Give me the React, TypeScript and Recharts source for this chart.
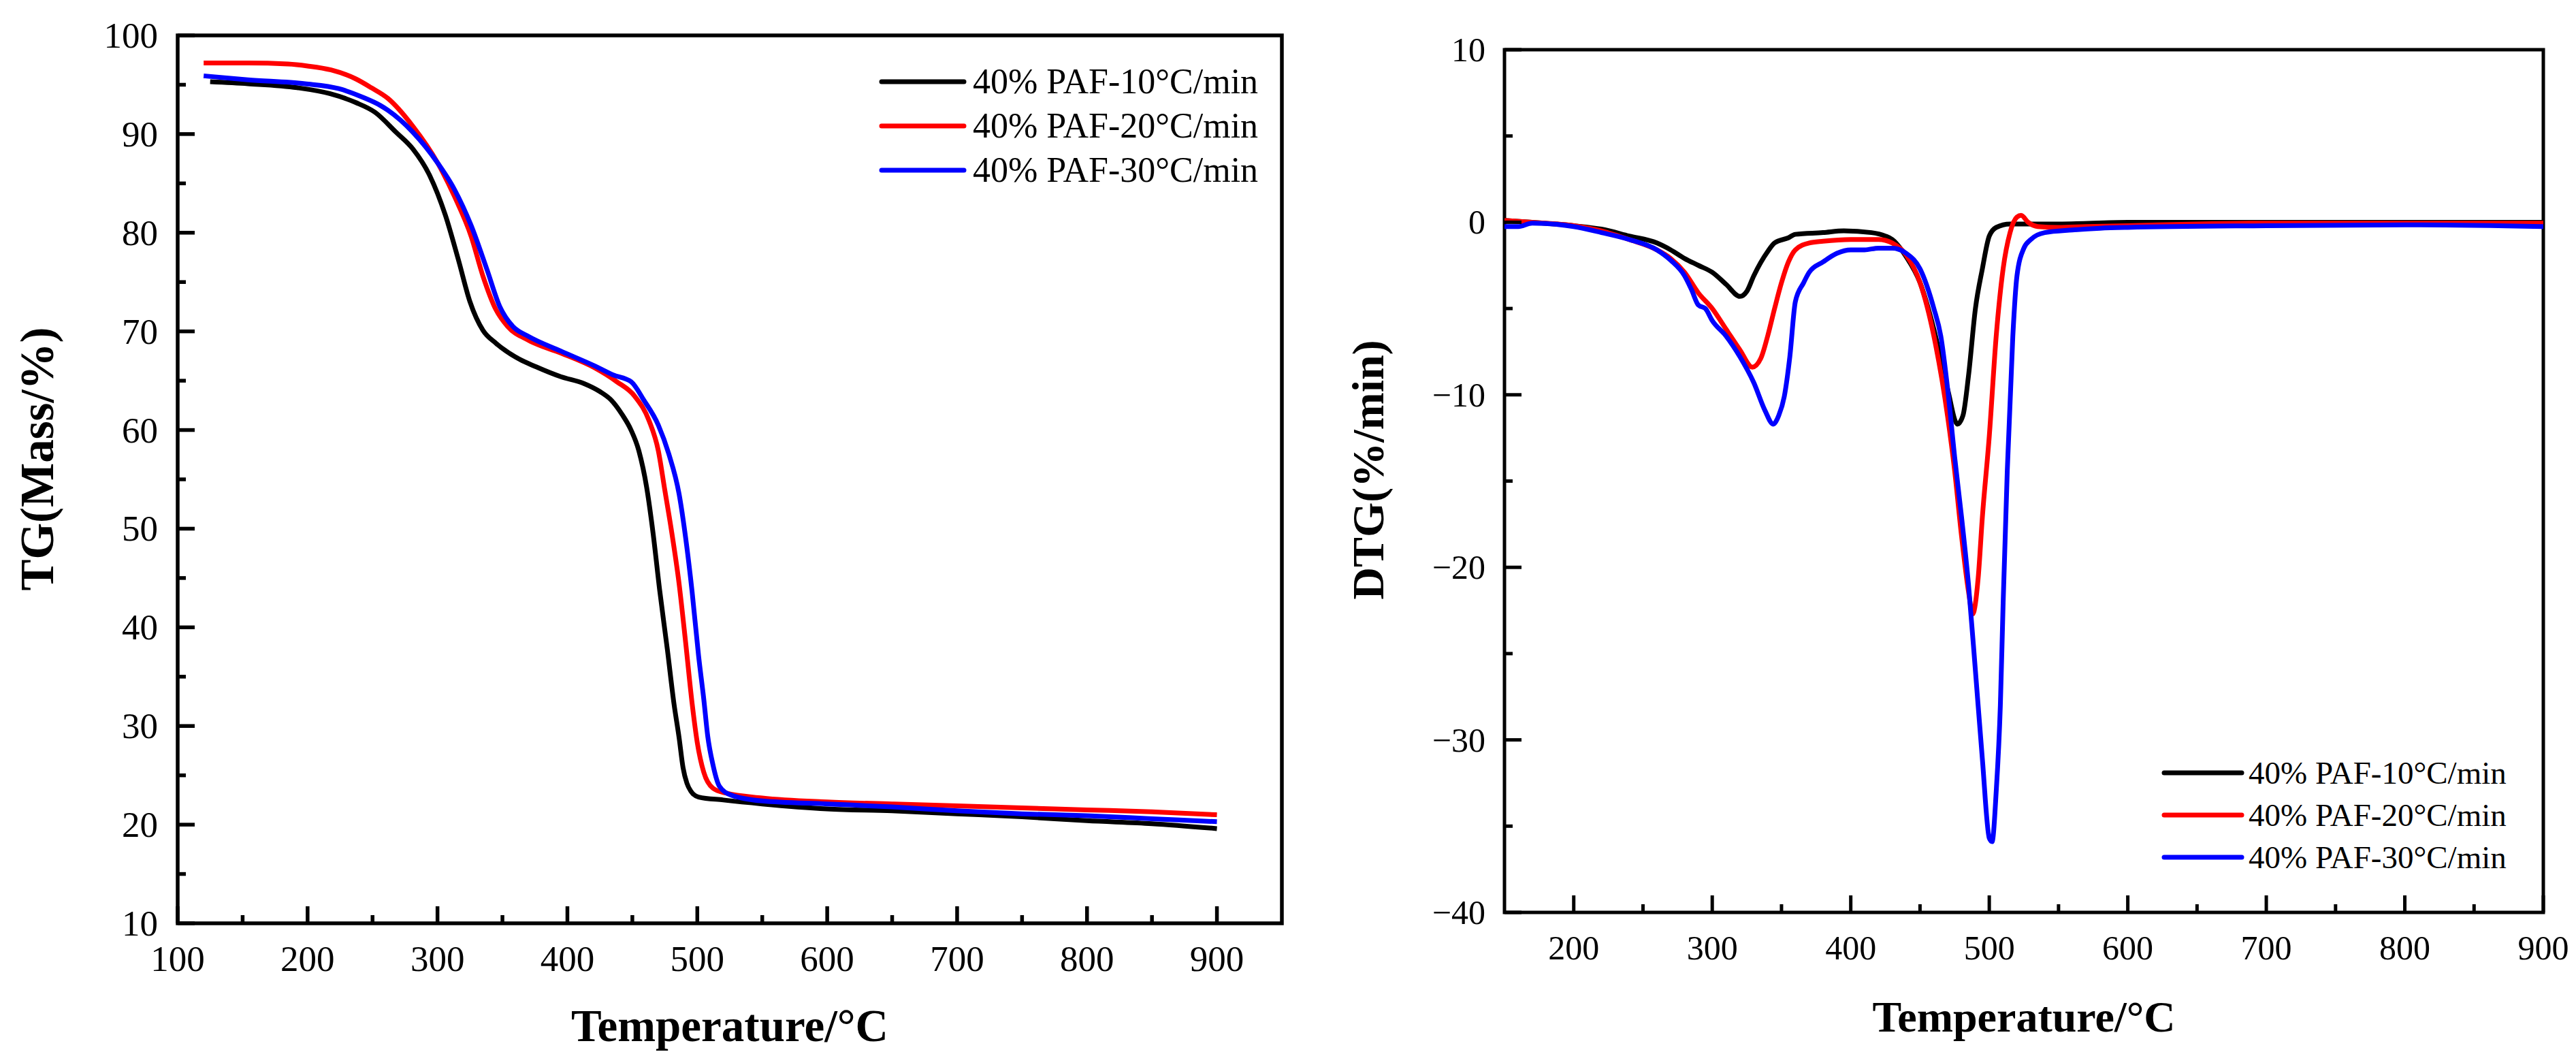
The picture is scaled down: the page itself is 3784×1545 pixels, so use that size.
import React from "react";
import { LineChart, Line, XAxis, YAxis, ReferenceArea, Legend } from "recharts";

const FONT = "'Liberation Serif', 'Times New Roman', serif";

const seriesNames = ["40% PAF-10°C/min", "40% PAF-20°C/min", "40% PAF-30°C/min"];
const seriesColors = ["#000000", "#ff0000", "#0000ff"];

// TG curves: [temperature °C, mass %]
const tg10 = [
  [125, 95.3], [154, 95.1], [192, 94.7], [217, 94.1], [237, 93.2], [252, 92.2], [268, 90.2],
  [281, 88.5], [294, 85.8], [306, 81.8], [316, 77.3], [325, 73.0], [335, 70.1], [345, 68.8],
  [360, 67.4], [376, 66.4], [395, 65.4], [413, 64.7], [425, 63.9], [434, 63.0], [442, 61.6],
  [449, 60.0], [455, 57.9], [461, 54.2], [466, 49.5], [471, 43.8], [477, 37.7], [482, 32.3],
  [486, 28.8], [489, 25.8], [492, 24.2], [495, 23.4], [501, 22.8], [520, 22.5], [550, 22.1],
  [600, 21.6], [650, 21.4], [700, 21.1], [750, 20.8], [800, 20.4], [850, 20.1], [900, 19.6],
];
const tg20 = [
  [120, 97.2], [154, 97.2], [185, 97.1], [200, 96.9], [218, 96.5], [237, 95.6], [249, 94.7],
  [262, 93.6], [281, 90.8], [300, 87.1], [313, 83.7], [326, 79.6], [335, 75.6], [345, 72.2],
  [354, 70.5], [370, 69.1], [395, 67.8], [421, 66.3], [438, 64.9], [452, 63.4], [463, 60.9],
  [470, 57.9], [475, 53.9], [480, 49.9], [486, 44.4], [491, 38.5], [496, 32.3], [500, 28.3],
  [505, 25.3], [512, 23.7], [522, 23.2], [550, 22.7], [600, 22.3], [650, 22.1], [700, 21.9],
  [750, 21.7], [800, 21.5], [850, 21.3], [900, 21.0],
];
const tg30 = [
  [120, 95.9], [154, 95.5], [198, 95.1], [224, 94.6], [243, 93.7], [256, 92.9], [262, 92.4],
  [281, 90.2], [300, 87.1], [313, 84.4], [326, 80.7], [338, 76.3], [348, 72.5], [358, 70.5],
  [370, 69.5], [395, 68.0], [421, 66.5], [435, 65.6], [449, 64.9], [459, 63.0], [470, 60.5],
  [478, 57.6], [486, 53.5], [491, 49.1], [496, 43.6], [501, 37.1], [505, 32.7], [508, 29.0],
  [512, 26.1], [517, 23.9], [526, 23.0], [550, 22.4], [600, 22.1], [650, 21.8], [700, 21.4],
  [750, 21.1], [800, 20.9], [850, 20.6], [900, 20.3],
];

// DTG curves: [temperature °C, %/min]
const dtg10 = [
  [150, 0.1], [170, 0.0], [200, -0.2], [220, -0.4], [240, -0.8], [260, -1.2], [270, -1.6],
  [280, -2.1], [290, -2.5], [300, -2.9], [310, -3.6], [320, -4.3], [325, -4.0], [330, -3.1],
  [340, -1.7], [345, -1.2], [355, -0.9], [360, -0.7], [380, -0.6], [395, -0.5], [415, -0.6],
  [425, -0.8], [430, -1.0], [440, -2.0], [450, -3.5], [460, -6.2], [470, -9.7], [477, -11.7],
  [481, -11.2], [485, -8.9], [490, -5.0], [495, -2.7], [500, -0.8], [505, -0.3], [515, -0.1],
  [550, -0.1], [600, 0.0], [650, 0.0], [700, 0.0], [750, 0.0], [800, 0.0], [850, 0.0], [900, 0.0],
];
const dtg20 = [
  [150, 0.1], [170, 0.0], [200, -0.2], [220, -0.5], [240, -1.0], [260, -1.6], [270, -2.1],
  [280, -2.9], [290, -4.1], [300, -5.0], [310, -6.2], [320, -7.4], [329, -8.4], [335, -7.9],
  [340, -6.6], [345, -5.0], [350, -3.5], [355, -2.3], [360, -1.6], [370, -1.2], [380, -1.1],
  [400, -1.0], [420, -1.0], [430, -1.2], [440, -1.9], [450, -3.5], [460, -6.6], [470, -11.3],
  [475, -14.4], [480, -18.2], [485, -21.4], [488, -22.7], [492, -20.6], [495, -17.1], [500, -12.4],
  [505, -6.6], [510, -2.7], [515, -0.6], [520, 0.3], [523, 0.4], [528, 0.0], [535, -0.25],
  [550, -0.3], [570, -0.25], [600, -0.2], [650, -0.1], [700, -0.05], [800, -0.05], [900, -0.05],
];
const dtg30 = [
  [150, -0.25], [160, -0.25], [170, -0.05], [200, -0.25], [220, -0.6], [240, -1.0], [260, -1.6],
  [270, -2.2], [280, -3.1], [285, -3.9], [290, -4.8], [295, -5.0], [300, -5.7], [310, -6.6],
  [320, -7.8], [330, -9.3], [338, -10.9], [344, -11.7], [348, -11.2], [352, -10.1], [356, -7.8],
  [360, -4.6], [366, -3.5], [370, -2.9], [380, -2.3], [390, -1.8], [400, -1.6], [410, -1.6],
  [420, -1.5], [430, -1.5], [440, -1.8], [450, -2.7], [460, -5.0], [465, -6.6], [470, -9.7],
  [475, -13.6], [480, -17.1], [485, -21.0], [490, -26.0], [495, -31.1], [500, -35.7], [502, -35.9],
  [505, -33.0], [508, -28.0], [510, -22.1], [513, -14.4], [517, -6.6], [520, -3.1], [525, -1.5],
  [530, -1.0], [540, -0.6], [560, -0.45], [580, -0.35], [600, -0.3], [700, -0.2], [800, -0.15],
  [900, -0.25],
];

// axis ticks
const tgXMajor = [100, 200, 300, 400, 500, 600, 700, 800, 900];
const tgXMinor = [150, 250, 350, 450, 550, 650, 750, 850];
const tgYMajor = [10, 20, 30, 40, 50, 60, 70, 80, 90, 100];
const tgYMinor = [15, 25, 35, 45, 55, 65, 75, 85, 95];
const dtgXMajor = [200, 300, 400, 500, 600, 700, 800, 900];
const dtgXMinor = [250, 350, 450, 550, 650, 750, 850];
const dtgYMajor = [-40, -30, -20, -10, 0, 10];
const dtgYMinor = [-35, -25, -15, -5, 5];

const toPoints = (rows: number[][]) => rows.map(([t, v]) => ({ t, v }));
const fmt = (v: number) => (v < 0 ? `\u2212${Math.abs(v)}` : `${v}`);

function BottomTick(props: any) {
  const { x, y, payload, major, fontSize, gap, sw } = props;
  const isMajor = major.includes(payload.value);
  return (
    <g>
      <line x1={x} x2={x} y1={y} y2={y - (isMajor ? 25 : 12)} stroke="#000" strokeWidth={sw} />
      {isMajor && (
        <text x={x} y={y + gap} textAnchor="middle" fontSize={fontSize} fontFamily={FONT} fill="#000">
          {fmt(payload.value)}
        </text>
      )}
    </g>
  );
}

function LeftTick(props: any) {
  const { x, y, payload, major, fontSize, gap, sw } = props;
  const isMajor = major.includes(payload.value);
  return (
    <g>
      <line x1={x} x2={x + (isMajor ? 25 : 12)} y1={y} y2={y} stroke="#000" strokeWidth={sw} />
      {isMajor && (
        <text x={x - gap} y={y} dy="0.34em" textAnchor="end" fontSize={fontSize} fontFamily={FONT} fill="#000">
          {fmt(payload.value)}
        </text>
      )}
    </g>
  );
}

function YTitle(props: any) {
  const { px, py, text, size } = props;
  return (
    <text
      transform={`translate(${px},${py}) rotate(-90)`}
      textAnchor="middle"
      fontSize={size}
      fontWeight="bold"
      fontFamily={FONT}
      fill="#000"
    >
      {text}
    </text>
  );
}

function makeLegend(lineLen: number, gap: number, rowH: number, fontSize: number) {
  return (props: any) => {
    const items = props.payload || [];
    return (
      <div style={{ fontFamily: FONT, fontSize, lineHeight: `${rowH}px`, whiteSpace: "nowrap" }}>
        {items.map((it: any) => (
          <div key={it.value} style={{ display: "flex", alignItems: "center", height: rowH }}>
            <svg width={lineLen + 8} height={12} style={{ marginRight: gap - 4, marginLeft: -4 }}>
              <line x1={4} x2={lineLen + 4} y1={6} y2={6} stroke={it.color} strokeWidth={7} strokeLinecap="round" />
            </svg>
            <span style={{ color: "#000", fontFamily: FONT }}>{it.value}</span>
          </div>
        ))}
      </div>
    );
  };
}

function TGChart() {
  const sets = [tg10, tg20, tg30];
  return (
    <LineChart width={1900} height={1545} margin={{ top: 52, right: 17, bottom: 0, left: 0 }}>
      <XAxis
        dataKey="t"
        type="number"
        domain={[100, 950]}
        ticks={[...tgXMajor, ...tgXMinor]}
        interval={0}
        height={189}
        axisLine={false}
        tickLine={false}
        tickSize={0}
        tickMargin={0}
        tick={<BottomTick major={tgXMajor} fontSize={53} gap={70} sw={5.5} />}
        allowDataOverflow
        label={{
          value: "Temperature/°C",
          position: "insideBottom",
          offset: 16,
          fontSize: 67,
          fontWeight: "bold",
          fontFamily: FONT,
          fill: "#000",
        }}
      />
      <YAxis
        dataKey="v"
        type="number"
        domain={[10, 100]}
        ticks={[...tgYMajor, ...tgYMinor]}
        interval={0}
        width={261}
        axisLine={false}
        tickLine={false}
        tickSize={0}
        tickMargin={0}
        tick={<LeftTick major={tgYMajor} fontSize={53} gap={29} sw={5.5} />}
        allowDataOverflow
        label={<YTitle px={78} py={674} text="TG(Mass/%)" size={69} />}
      />
      <ReferenceArea x1={100} x2={950} y1={10} y2={100} fill="none" stroke="#000" strokeWidth={5.5} />
      {sets.map((d, i) => (
        <Line
          key={seriesNames[i]}
          data={toPoints(d)}
          dataKey="v"
          name={seriesNames[i]}
          type="monotone"
          stroke={seriesColors[i]}
          strokeWidth={7}
          dot={false}
          isAnimationActive={false}
        />
      ))}
      <Legend
        layout="vertical"
        align="center"
        verticalAlign="middle"
        content={makeLegend(121, 13, 65, 52)}
        wrapperStyle={{ left: 1295, top: 87, width: 590 }}
      />
    </LineChart>
  );
}

function DTGChart() {
  const sets = [dtg10, dtg20, dtg30];
  return (
    <LineChart width={1884} height={1545} margin={{ top: 73, right: 48, bottom: 0, left: 0 }}>
      <XAxis
        dataKey="t"
        type="number"
        domain={[150, 900]}
        ticks={[...dtgXMajor, ...dtgXMinor]}
        interval={0}
        height={205}
        axisLine={false}
        tickLine={false}
        tickSize={0}
        tickMargin={0}
        tick={<BottomTick major={dtgXMajor} fontSize={50} gap={69} sw={5} />}
        allowDataOverflow
        label={{
          value: "Temperature/°C",
          position: "insideBottom",
          offset: 30,
          fontSize: 64,
          fontWeight: "bold",
          fontFamily: FONT,
          fill: "#000",
        }}
      />
      <YAxis
        dataKey="v"
        type="number"
        domain={[-40, 10]}
        ticks={[...dtgYMajor, ...dtgYMinor]}
        interval={0}
        width={310}
        axisLine={false}
        tickLine={false}
        tickSize={0}
        tickMargin={0}
        tick={<LeftTick major={dtgYMajor} fontSize={50} gap={28} sw={5} />}
        allowDataOverflow
        label={<YTitle px={132} py={690} text="DTG(%/min)" size={66} />}
      />
      <ReferenceArea x1={150} x2={900} y1={-40} y2={10} fill="none" stroke="#000" strokeWidth={5} />
      {sets.map((d, i) => (
        <Line
          key={seriesNames[i]}
          data={toPoints(d)}
          dataKey="v"
          name={seriesNames[i]}
          type="monotone"
          stroke={seriesColors[i]}
          strokeWidth={7}
          dot={false}
          isAnimationActive={false}
        />
      ))}
      <Legend
        layout="vertical"
        align="center"
        verticalAlign="middle"
        content={makeLegend(114, 10, 62, 47)}
        wrapperStyle={{ left: 1279, top: 1104, width: 570 }}
      />
    </LineChart>
  );
}

export default function App() {
  return (
    <div style={{ position: "absolute", left: 0, top: 0, width: 3784, height: 1545, background: "#fff" }}>
      <div style={{ position: "absolute", left: 0, top: 0 }}>
        <TGChart />
      </div>
      <div style={{ position: "absolute", left: 1900, top: 0 }}>
        <DTGChart />
      </div>
    </div>
  );
}
